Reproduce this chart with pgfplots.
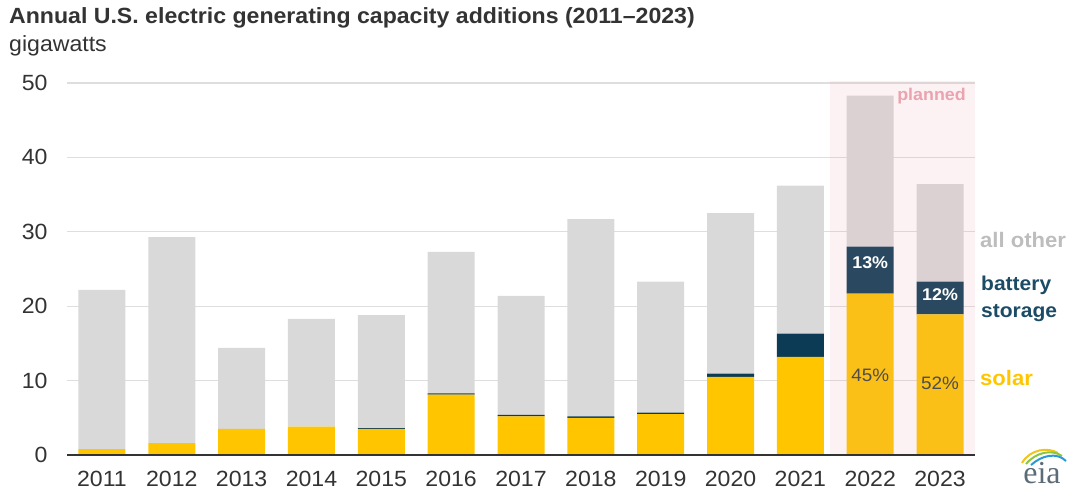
\documentclass[border=0pt]{standalone}
\usepackage{pgfplots}
\pgfplotsset{compat=1.18}
\usepackage{pgfplotstable}
\usepackage{fontspec}
\setmainfont[FakeStretch=1.05]{Liberation Sans}
\newfontfamily\serifeia{Liberation Serif}

\definecolor{solar}{HTML}{FFC600}
\definecolor{batt}{HTML}{0B3B55}
\definecolor{other}{HTML}{D9D9D9}
\definecolor{plan}{HTML}{E8A0A8}
\definecolor{plantxt}{HTML}{EBA3AE}
\definecolor{tickc}{HTML}{333333}
\definecolor{gridc}{HTML}{DEDEDE}
\definecolor{othertxt}{HTML}{BDBDBD}
\definecolor{batttxt}{HTML}{1C4B66}
\definecolor{pcttxt}{HTML}{4D4D4D}
\definecolor{eiatxt}{HTML}{5B6B78}
\definecolor{eiay}{HTML}{F2C418}
\definecolor{eiag}{HTML}{8CC63F}
\definecolor{eiab}{HTML}{2A9AD6}

% capacity additions, GW
\pgfplotstableread{
x solar batt other
0 0.8 0.0 21.4
1 1.6 0.0 27.7
2 3.5 0.0 10.9
3 3.8 0.0 14.5
4 3.5 0.1 15.2
5 8.1 0.2 19.0
6 5.2 0.2 16.0
7 5.0 0.2 26.5
8 5.5 0.2 17.6
9 10.5 0.45 21.55
10 13.2 3.1 19.9
11 21.7 6.3 20.3
12 18.9 4.4 13.1
}\datatable

\begin{document}
\begin{tikzpicture}
\useasboundingbox (0pt,0pt) rectangle (1075pt,493pt);

\node[anchor=west, inner sep=0, font=\fontsize{22}{24}\selectfont\bfseries, text=tickc]
  at (9pt,475pt) {Annual U.S. electric generating capacity additions (2011–2023)};
\node[anchor=west, inner sep=0, font=\fontsize{22}{24}\selectfont, text=tickc]
  at (9pt,447pt) {gigawatts};

\begin{axis}[
  at={(67pt,38pt)}, anchor=south west,
  width=908pt, height=372pt, scale only axis,
  xmin=-0.5, xmax=12.5, ymin=0, ymax=50,
  clip=false,
  ybar stacked, bar width=47pt,
  axis x line=bottom, axis y line=left,
  axis line style={draw=none},
  ymajorgrids, grid style={gridc, line width=1.3pt},
  ytick={0,10,...,50},
  xtick={0,...,12},
  xticklabels={2011,2012,2013,2014,2015,2016,2017,2018,2019,2020,2021,2022,2023},
  major tick length=0pt,
  /pgf/number format/assume math mode=true,
  tick label style={font=\fontsize{22}{22}\selectfont, text=tickc},
  yticklabel style={xshift=-16pt},
  xticklabel style={yshift=-13pt},
]
\addplot[fill=solar, draw=none] table[x=x, y=solar] {\datatable};
\addplot[fill=batt, draw=none] table[x=x, y=batt] {\datatable};
\addplot[fill=other, draw=none] table[x=x, y=other] {\datatable};

\coordinate (pl1) at (axis cs:10.42,0);
\coordinate (pl2) at (axis cs:12.5,50.3);
\coordinate (z1) at (axis cs:-0.5,0);
\coordinate (z2) at (axis cs:12.5,0);
\coordinate (plab) at (axis cs:12.37,48.3);
\coordinate (p13) at (axis cs:11,25.9);
\coordinate (p12) at (axis cs:12,21.5);
\coordinate (p45) at (axis cs:11,10.7);
\coordinate (p52) at (axis cs:12,9.7);
\end{axis}

% planned period, tinted over the bars
\fill[plan, fill opacity=0.14] (pl1) rectangle (pl2);
\draw[tickc, line width=1.6pt] (z1) -- (z2);

\node[text=plantxt, anchor=east, inner sep=0, font=\fontsize{17}{17}\selectfont\bfseries] at (plab) {planned};
\node[text=white, font=\fontsize{17}{17}\selectfont\bfseries] at (p13) {13\%};
\node[text=white, font=\fontsize{17}{17}\selectfont\bfseries] at (p12) {12\%};
\node[text=pcttxt, font=\fontsize{18}{18}\selectfont] at (p45) {45\%};
\node[text=pcttxt, font=\fontsize{18}{18}\selectfont] at (p52) {52\%};

\node[anchor=west, inner sep=0, text=othertxt, font=\fontsize{21}{21}\selectfont\bfseries]
  at (980pt,253pt) {all other};
\node[anchor=west, inner sep=0, text=batttxt, font=\fontsize{20}{20}\selectfont\bfseries]
  at (981pt,208pt) {battery};
\node[anchor=west, inner sep=0, text=batttxt, font=\fontsize{20}{20}\selectfont\bfseries]
  at (981pt,180pt) {storage};
\node[anchor=west, inner sep=0, text=solar, font=\fontsize{21}{21}\selectfont\bfseries]
  at (980pt,115pt) {solar};

% eia logo
\node[text=eiatxt, inner sep=0, font=\fontsize{32}{32}\selectfont\serifeia] at (1042pt,20pt) {eia};
\draw[eiay, line width=2pt] (1022pt,30pt) .. controls (1030pt,44pt) and (1048pt,46pt) .. (1058pt,40pt);
\draw[eiag, line width=2pt] (1026pt,29pt) .. controls (1036pt,41pt) and (1052pt,44pt) .. (1062pt,37pt);
\draw[eiab, line width=2pt] (1031pt,28pt) .. controls (1042pt,38pt) and (1057pt,41pt) .. (1066pt,32pt);
\end{tikzpicture}
\end{document}
